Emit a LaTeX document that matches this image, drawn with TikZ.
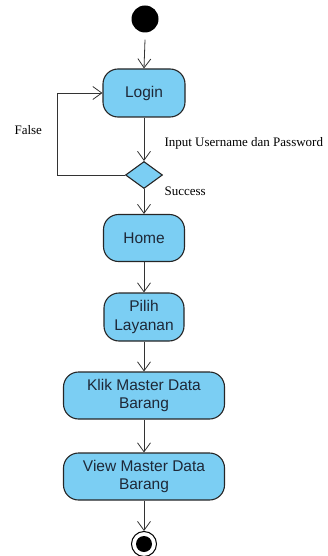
\documentclass[tikz,border=0pt]{standalone}
\usepackage{fontspec}
\setmainfont{Liberation Serif}
\setsansfont{Liberation Sans}
\usetikzlibrary{arrows.meta,shapes.geometric}
\definecolor{act_fill}{RGB}{123, 206, 243}
\definecolor{act_text}{RGB}{30, 40, 55}

\tikzset{
  activity/.style={draw=black!85, line width=1.1pt, fill=act_fill, rounded corners=15pt,
    font=\sffamily\fontsize{15.5}{18.5}\selectfont, text=act_text, align=center, inner sep=0pt},
  flow/.style={draw=black!80, line width=0.8pt, -{Straight Barb[length=9pt,width=13pt,line width=0.8pt]}},
  guard/.style={font=\fontsize{13}{15}\selectfont, anchor=west}
}

\begin{document}
\begin{tikzpicture}[x=1pt, y=-1pt]
\useasboundingbox (0,0) rectangle (327,556);

\node[circle, fill=black, minimum size=27pt, inner sep=0pt] (start) at (145,19) {};

\node[activity, minimum width=82pt, minimum height=48pt] (login) at (144,93) {Login};
\node[diamond, draw=black!85, line width=1.1pt, fill=act_fill, minimum width=37pt, minimum height=27pt, inner sep=0pt] (cek) at (144,175) {};
\node[activity, minimum width=81pt, minimum height=47pt] (home) at (144,238) {Home};
\node[activity, minimum width=80pt, minimum height=48pt] (pilih) at (144,317) {Pilih\\Layanan};
\node[activity, minimum width=161pt, minimum height=47pt] (klik) at (144,395.5) {Klik Master Data\\Barang};
\node[activity, minimum width=161pt, minimum height=47pt] (view) at (144,476.5) {View Master Data\\Barang};

% final node
\node[circle, draw=black, line width=1pt, fill=white, minimum size=25pt, inner sep=0pt] (end) at (144,544) {};
\node[circle, fill=black, minimum size=16pt, inner sep=0pt] (endin) at (end.center) {};

\draw[flow] (start.south) ++(0,7) coordinate (s0) (s0) -- (login.north);
\draw[flow] (login) -- (cek.north);
\draw[flow] (cek.west) -- (57,175) -- (57,93) -- (login.west);
\draw[flow] (cek) -- (home);
\draw[flow] (home) -- (pilih);
\draw[flow] (pilih) -- (klik);
\draw[flow] (klik) -- (view);
\draw[flow] (view) -- (end.north);

\node[guard] (lblInput) at (161,143) {Input Username dan Password};
\node[guard] (lblFalse) at (11,130) {False};
\node[guard] (lblSuccess) at (161,191) {Success};

\end{tikzpicture}
\end{document}
